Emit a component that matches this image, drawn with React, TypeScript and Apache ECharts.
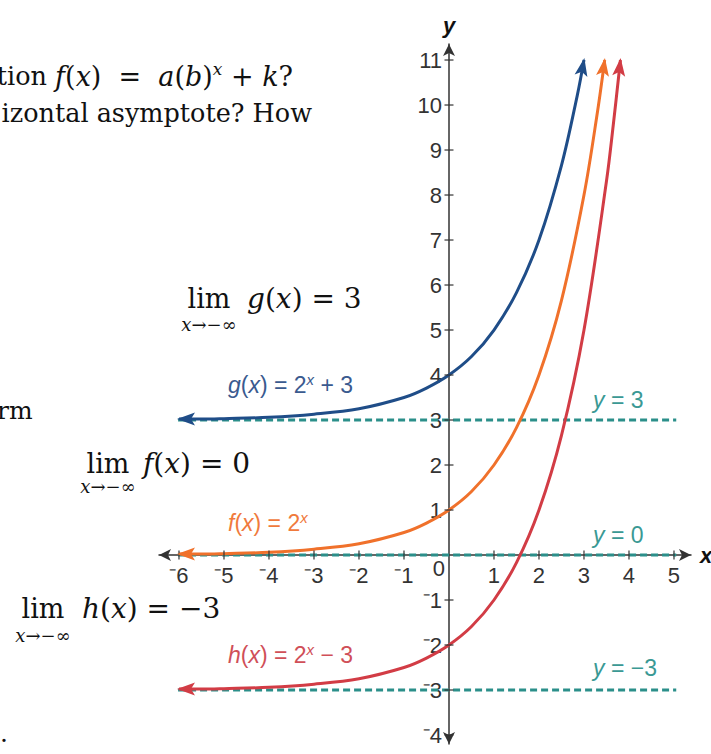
import React, { useEffect, useRef } from "react";
import * as echarts from "echarts";

// ---- data ----
const xTickValues = [-6, -5, -4, -3, -2, -1, 1, 2, 3, 4, 5];
const yTickValues = [-4, -3, -2, -1, 1, 2, 3, 4, 5, 6, 7, 8, 9, 10, 11];

const gX = [-6, -5.5, -5, -4, -3, -2, -1, -0.5, 0, 0.5, 1, 1.5, 2, 2.5, 2.85, 3];
const gY = [3.02, 3.02, 3.03, 3.06, 3.13, 3.25, 3.5, 3.71, 4, 4.41, 5, 5.83, 7, 8.66, 10.21, 11];

const fX = [-6, -5.5, -5, -4, -3, -2, -1, -0.5, 0, 0.5, 1, 1.5, 2, 2.5, 3, 3.3, 3.46];
const fY = [0.02, 0.02, 0.03, 0.06, 0.13, 0.25, 0.5, 0.71, 1, 1.41, 2, 2.83, 4, 5.66, 8, 9.85, 11];

const hX = [-6, -5.5, -5, -4, -3, -2, -1, -0.5, 0, 0.5, 1, 1.5, 2, 2.5, 3, 3.5, 3.65, 3.81];
const hY = [-2.98, -2.98, -2.97, -2.94, -2.87, -2.75, -2.5, -2.29, -2, -1.59, -1, -0.17, 1, 2.66, 5, 8.31, 9.55, 11];

const asymptoteValues = [3, 0, -3];
const asymptoteXRange = [-6.02, 5.05];

const curveNames = ["g(x) = 2^x + 3", "f(x) = 2^x", "h(x) = 2^x - 3"];

// ---- styles ----
const BLUE = "#1f4d88";
const ORANGE = "#f0712b";
const RED = "#d23c45";
const TEAL = "#2b8f8a";
const AXIS = "#333333";
const SANS = '"Liberation Sans", Arial, sans-serif';
const SERIF = '"DejaVu Serif", "Liberation Serif", serif';

function zipXY(xs: number[], ys: number[]) {
  return xs.map((x, i) => [x, ys[i]]);
}

function arrowData(xs: number[], ys: number[]) {
  const n = xs.length;
  return [
    [xs[1], ys[1], xs[0], ys[0]],
    [xs[n - 2], ys[n - 2], xs[n - 1], ys[n - 1]],
  ];
}

function arrowRender(color: string) {
  return (params: any, api: any) => {
    const p0 = api.coord([api.value(0), api.value(1)]);
    const p1 = api.coord([api.value(2), api.value(3)]);
    const dx = p1[0] - p0[0];
    const dy = p1[1] - p0[1];
    const L = Math.hypot(dx, dy) || 1;
    const ux = dx / L, uy = dy / L;
    const nx = -uy, ny = ux;
    const len = 18, half = 6.5, notch = 4, ext = 2;
    const tip = [p1[0] + ux * ext, p1[1] + uy * ext];
    const base = [tip[0] - ux * len, tip[1] - uy * len];
    const mid = [tip[0] - ux * (len - notch), tip[1] - uy * (len - notch)];
    return {
      type: "polygon",
      shape: {
        points: [
          tip,
          [base[0] + nx * half, base[1] + ny * half],
          mid,
          [base[0] - nx * half, base[1] - ny * half],
        ],
      },
      style: { fill: color },
    };
  };
}

function curveLabel(name: string, color: string, x: number, y: number) {
  const [lhs, rhs] = name.split(" = ");
  const fn = lhs.charAt(0);
  const [, tail] = rhs.split("^x");
  const tailText = tail.replace("-", "−");
  return {
    type: "text",
    x,
    y,
    style: {
      text: `{i|${fn}}{n|(}{i|x}{n|) = 2}{s|x}{n|${tailText}}`,
      fill: color,
      textAlign: "left",
      textVerticalAlign: "middle",
      align: "left",
      verticalAlign: "middle",
      rich: {
        n: { font: `23px ${SANS}`, fill: color, lineHeight: 27 },
        i: { font: `italic 23px ${SANS}`, fill: color, lineHeight: 27 },
        s: { font: `italic 15px ${SANS}`, fill: color, verticalAlign: "top", lineHeight: 27 },
      },
    },
    z: 100,
  };
}

function asymLabel(v: number, x: number, y: number) {
  const t = v < 0 ? "−" + Math.abs(v) : String(v);
  return {
    type: "text",
    x,
    y,
    style: {
      text: `{i|y}{n| = ${t}}`,
      textAlign: "left",
      textVerticalAlign: "middle",
      align: "left",
      verticalAlign: "middle",
      rich: {
        n: { font: `23px ${SANS}`, fill: "#3a9994" },
        i: { font: `italic 23px ${SANS}`, fill: "#3a9994" },
      },
    },
    z: 100,
  };
}

function serifText(text: string, x: number, y: number, align: string, size = 25, lineHeight?: number) {
  return {
    type: "text",
    x,
    y,
    style: {
      text,
      fill: "#111",
      font: `${size}px ${SERIF}`,
      textAlign: align,
      textVerticalAlign: "middle",
      align,
      verticalAlign: "middle",
      lineHeight: lineHeight ?? size,
    },
    z: 100,
  };
}

function mathRich(size: number) {
  return {
    n: { font: `${size}px ${SERIF}`, fill: "#111" },
    i: { font: `italic ${size}px ${SERIF}`, fill: "#111" },
    s: { font: `italic ${Math.round(size * 0.62)}px ${SERIF}`, fill: "#111", verticalAlign: "top", lineHeight: size + 4 },
    t: { font: `25.5px ${SERIF}`, fill: "#111" },
  };
}

function richText(text: string, x: number, y: number, align: string, size: number) {
  return {
    type: "text",
    x,
    y,
    style: {
      text,
      textAlign: align,
      textVerticalAlign: "middle",
      align,
      verticalAlign: "middle",
      rich: mathRich(size),
    },
    z: 100,
  };
}

function limitBlock(fn: string, value: string, limX: number, midY: number, fnX: number, subY: number) {
  return [
    serifText("lim", limX, midY, "center", 27, 20),
    richText(`{i|${fn}}{n|(}{i|x}{n|) = ${value}}`, fnX, midY, "left", 28),
    richText(`{i|x}{n|→−∞}`, limX, subY, "center", 18),
  ];
}

const tickFmt = (v: number) => (v < 0 ? "⁻" + Math.abs(v) : String(v));

export default function App() {
  const ref = useRef<HTMLDivElement>(null);
  useEffect(() => {
    if (!ref.current) return;
    const chart = echarts.init(ref.current, undefined, { renderer: "svg" });
    const curves = [
      { name: curveNames[0], xs: gX, ys: gY, color: BLUE },
      { name: curveNames[1], xs: fX, ys: fY, color: ORANGE },
      { name: curveNames[2], xs: hX, ys: hY, color: RED },
    ];
    const series: any[] = [];
    asymptoteValues.forEach((v) => {
      series.push({
        type: "line",
        name: "y = " + v,
        data: asymptoteXRange.map((x) => [x, v]),
        symbol: "none",
        lineStyle: { color: TEAL, width: 3, type: [7, 4] },
        z: 2,
        silent: true,
      });
    });
    curves.forEach((c) => {
      series.push({
        type: "line",
        name: c.name,
        data: zipXY(c.xs, c.ys),
        smooth: 0.35,
        symbol: "none",
        lineStyle: { color: c.color, width: 3 },
        z: 3,
        silent: true,
      });
      series.push({
        type: "custom",
        name: c.name + " arrows",
        data: arrowData(c.xs, c.ys),
        renderItem: arrowRender(c.color),
        clip: false,
        z: 5,
        silent: true,
      });
    });
    series.push({
      type: "scatter",
      name: "x ticks",
      data: xTickValues.map((v) => [v, 0]),
      symbol: "rect",
      symbolSize: [1.5, 9],
      itemStyle: { color: AXIS },
      z: 4,
      silent: true,
    });
    series.push({
      type: "scatter",
      name: "y ticks",
      data: yTickValues.map((v) => [0, v]),
      symbol: "rect",
      symbolSize: [9, 1.5],
      itemStyle: { color: AXIS },
      z: 4,
      silent: true,
    });

    const graphics: any[] = [
      // surrounding page text
      richText(`{t|tion }{i|f}{n|(}{i|x}{n|)  =  }{i|a}{n|(}{i|b}{n|)}{s|x}{n| + }{i|k}{n|?}`, 293, 76, "right", 27),
      serifText("izontal asymptote? How", 312, 113, "right", 25.5),
      serifText("rm", -3, 410, "left", 25),
      serifText(".", 0, 733, "left", 25),
      ...limitBlock("g", "3", 209, 298, 247, 324),
      ...limitBlock("f", "0", 108, 463, 143, 486),
      ...limitBlock("h", "−3", 43, 608, 82, 635),
      curveLabel(curveNames[0], "#3a5a8f", 228, 385),
      curveLabel(curveNames[1], "#f07a3c", 228, 523),
      curveLabel(curveNames[2], "#d04f58", 228, 655),
      asymLabel(asymptoteValues[0], 593, 400),
      asymLabel(asymptoteValues[1], 593, 535),
      asymLabel(asymptoteValues[2], 593, 668),
      {
        type: "text",
        x: 445,
        y: 568,
        style: { text: "0", font: `22px ${SANS}`, fill: AXIS, textAlign: "right", textVerticalAlign: "middle", align: "right", verticalAlign: "middle" },
        z: 100,
      },
      {
        type: "text",
        x: 700,
        y: 555,
        style: { text: "x", font: `italic bold 22px ${SANS}`, fill: "#111", textAlign: "left", textVerticalAlign: "middle", align: "left", verticalAlign: "middle" },
        z: 100,
      },
      {
        type: "text",
        x: 449,
        y: 25,
        style: { text: "y", font: `italic bold 22px ${SANS}`, fill: "#111", textAlign: "center", textVerticalAlign: "middle", align: "center", verticalAlign: "middle" },
        z: 100,
      },
    ];

    chart.setOption({
      animation: false,
      backgroundColor: "#ffffff",
      grid: { left: 159, right: 20, top: 44, bottom: 10, containLabel: false, outerBoundsMode: "none" },
      xAxis: {
        type: "value",
        min: -6.444,
        max: 5.378,
        position: "bottom",
        offset: -189,
        splitLine: { show: false },
        axisTick: { show: false },
        axisLine: {
          show: true,
          onZero: false,
          symbol: ["arrow", "arrow"],
          symbolSize: [9, 12],
          lineStyle: { color: AXIS, width: 1.5 },
        },
        axisLabel: {
          customValues: xTickValues,
          formatter: tickFmt,
          fontSize: 22,
          fontFamily: SANS,
          color: AXIS,
          margin: 9,
        },
      },
      yAxis: {
        type: "value",
        min: -4.2,
        max: 11.356,
        position: "left",
        offset: -290,
        splitLine: { show: false },
        axisTick: { show: false },
        axisLine: {
          show: true,
          onZero: false,
          symbol: ["arrow", "arrow"],
          symbolSize: [9, 12],
          lineStyle: { color: AXIS, width: 1.5 },
        },
        axisLabel: {
          customValues: yTickValues,
          formatter: tickFmt,
          fontSize: 22,
          fontFamily: SANS,
          color: AXIS,
          margin: 7,
        },
      },
      series,
      graphic: graphics,
    });
    return () => chart.dispose();
  }, []);
  return <div ref={ref} style={{ position: "fixed", left: 0, top: 0, width: 711, height: 754 }} />;
}
